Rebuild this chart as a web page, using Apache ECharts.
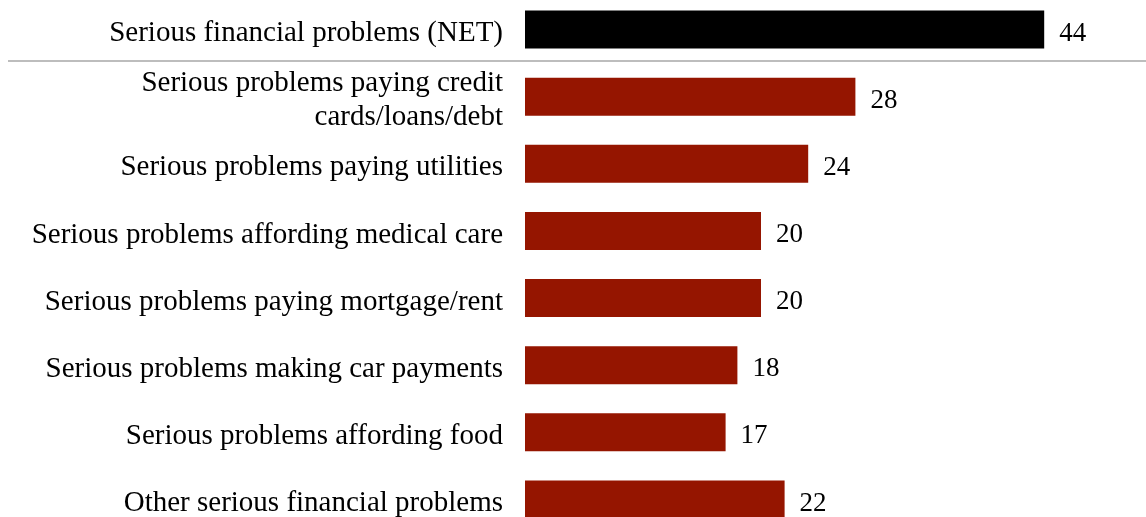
<!DOCTYPE html>
<html>
<head>
<meta charset="utf-8">
<script src="https://cdn.jsdelivr.net/npm/echarts@6/dist/echarts.min.js"></script>
<style>html,body{margin:0;padding:0;background:#fff;overflow:hidden;width:1146px;height:517px;}#c{position:absolute;left:0;top:-4px;width:1146px;height:540px;}</style>
</head>
<body>
<div id="c"></div>
<script>
const categories = [
  "Serious financial problems (NET)",
  "Serious problems paying credit\ncards/loans/debt",
  "Serious problems paying utilities",
  "Serious problems affording medical care",
  "Serious problems paying mortgage/rent",
  "Serious problems making car payments",
  "Serious problems affording food",
  "Other serious financial problems"
];
const values = [44, 28, 24, 20, 20, 18, 17, 22];
const barColors = ["#000000", "#951500", "#951500", "#951500", "#951500", "#951500", "#951500", "#951500"];

const chart = echarts.init(document.getElementById('c'));
const font = "'Liberation Serif', 'Times New Roman', serif";
chart.setOption({
  animation: false,
  grid: { left: 525, width: 590, top: 0, height: 537 },
  xAxis: { type: 'value', min: 0, max: 50, show: false, splitLine: { show: false } },
  yAxis: {
    type: 'category', data: categories, inverse: true,
    axisLine: { show: false }, axisTick: { show: false },
    axisLabel: { show: false }
  },
  graphic: [{
    type: 'line', shape: { x1: 8, y1: 65, x2: 1146, y2: 65 },
    style: { stroke: '#bdbdbd', lineWidth: 2 }
  }],
  series: [{
    type: 'bar', barWidth: 38,
    data: values.map((v, i) => ({ value: v, itemStyle: { color: barColors[i] } })),
    label: { show: true, position: 'right', distance: 15, offset: [0, 4], color: '#000', fontFamily: font, fontSize: 27 }
  }, {
    type: 'bar', barWidth: 38, barGap: '-100%', silent: true,
    data: categories.map(() => 0),
    itemStyle: { color: 'rgba(0,0,0,0)' },
    label: {
      show: true, position: 'left', distance: 22, offset: [0, 4],
      formatter: p => p.name, align: 'right',
      color: '#000', fontFamily: font, fontSize: 29, lineHeight: 34
    }
  }]
});
</script>
</body>
</html>
